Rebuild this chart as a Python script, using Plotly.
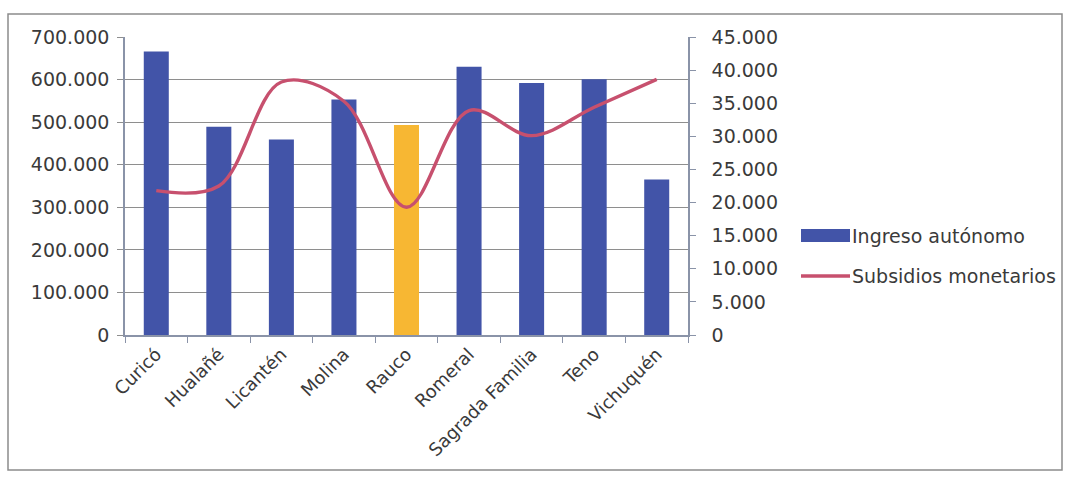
import plotly.graph_objects as go

# Comunas de la provincia de Curicó
comunas = ["Curicó", "Hualañé", "Licantén", "Molina", "Rauco",
           "Romeral", "Sagrada Familia", "Teno", "Vichuquén"]

# Ingreso autónomo (eje izquierdo)
ingreso_autonomo = [666000, 489000, 459000, 553000, 493000,
                    630000, 592000, 601000, 365000]

# Subsidios monetarios (eje derecho)
subsidios_monetarios = [21800, 22500, 38200, 35300, 19300,
                        33900, 30100, 34400, 38600]

left_ticks = [0, 100000, 200000, 300000, 400000, 500000, 600000, 700000]
right_ticks = [0, 5000, 10000, 15000, 20000, 25000, 30000, 35000, 40000, 45000]

BLUE = "#4254A8"
GOLD = "#F7B733"
PINK = "#C7506E"
GRID = "#8E8E8E"
AXIS = "#8A93A8"
TEXT = "#3A3A3A"
FONT = "DejaVu Sans"

bar_colors = [GOLD if c == "Rauco" else BLUE for c in comunas]

fig = go.Figure()
fig.add_trace(go.Bar(
    x=comunas, y=ingreso_autonomo, name="Ingreso autónomo",
    marker=dict(color=bar_colors, line=dict(width=0)),
    yaxis="y", showlegend=False,
))
fig.add_trace(go.Scatter(
    x=comunas, y=subsidios_monetarios, name="Subsidios monetarios",
    mode="lines", line=dict(color=PINK, width=3.4, shape="spline", smoothing=1.0),
    yaxis="y2", showlegend=False,
))

W, H = 1072, 482
L, R, T, B = 125, 688, 37, 335  # plot area in pixels


def px_x(p):
    return (p - L) / (R - L)


def px_y(p):
    return (B - p) / (B - T)


fig.update_layout(
    width=W, height=H,
    margin=dict(l=L, r=W - R, t=T, b=H - B),
    paper_bgcolor="white", plot_bgcolor="white",
    separators=",.",
    bargap=0.6,
    font=dict(family=FONT, size=18, color=TEXT),
    xaxis=dict(
        type="category", tickangle=-45, tickson="boundaries",
        ticks="outside", ticklen=6, tickcolor=AXIS,
        showline=True, linecolor=AXIS, linewidth=1.5,
        showgrid=False, tickfont=dict(size=18, color=TEXT),
    ),
    yaxis=dict(
        range=[0, 700000], tickvals=left_ticks, tickformat=",d",
        showgrid=True, gridcolor=GRID, gridwidth=1.2,
        ticks="outside", ticklen=6, tickcolor=GRID,
        showline=True, linecolor=AXIS, linewidth=1.5,
        zeroline=False, tickfont=dict(size=19, color=TEXT),
        ticklabelstandoff=4,
    ),
    yaxis2=dict(
        range=[0, 45000], tickvals=right_ticks, tickformat=",d",
        overlaying="y", side="right", showgrid=False,
        ticks="outside", ticklen=6, tickcolor=AXIS,
        showline=True, linecolor=AXIS, linewidth=1.5,
        zeroline=False, tickfont=dict(size=19, color=TEXT),
        ticklabelstandoff=12,
    ),
    showlegend=False,
)

shapes = [
    # marco exterior del gráfico
    dict(type="rect", xref="paper", yref="paper",
         x0=px_x(8), x1=px_x(1062), y0=px_y(470), y1=px_y(14),
         line=dict(color="#8C8C8C", width=1.5), fillcolor="rgba(0,0,0,0)",
         layer="below"),
    # leyenda: barra
    dict(type="rect", xref="paper", yref="paper",
         x0=px_x(801), x1=px_x(850), y0=px_y(242), y1=px_y(229),
         line=dict(width=0), fillcolor=BLUE),
    # leyenda: línea
    dict(type="line", xref="paper", yref="paper",
         x0=px_x(801), x1=px_x(850), y0=px_y(276), y1=px_y(276),
         line=dict(color=PINK, width=3.4)),
]

annotations = [
    dict(text="Ingreso autónomo", xref="paper", yref="paper",
         x=px_x(850), y=px_y(236), xanchor="left", yanchor="middle",
         showarrow=False, font=dict(family=FONT, size=19, color=TEXT)),
    dict(text="Subsidios monetarios", xref="paper", yref="paper",
         x=px_x(850), y=px_y(276), xanchor="left", yanchor="middle",
         showarrow=False, font=dict(family=FONT, size=19, color=TEXT)),
]

fig.update_layout(shapes=shapes, annotations=annotations)

fig.write_html("out.html")
